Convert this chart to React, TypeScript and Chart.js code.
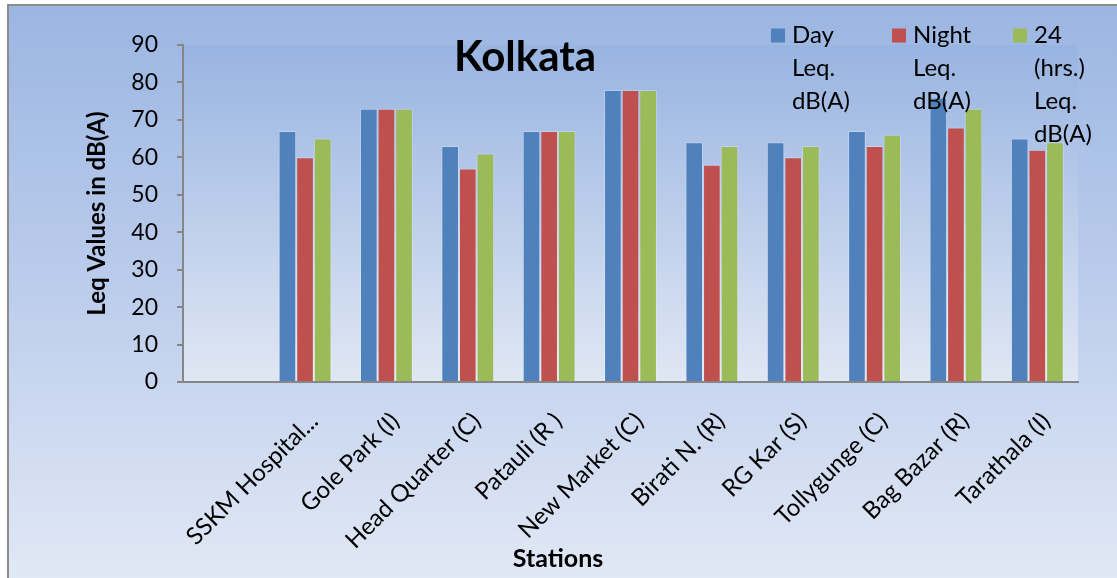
import React, { useEffect, useRef } from 'react';
import { Chart, registerables } from 'chart.js';

Chart.register(...registerables);

const categories = [
  '',
  'SSKM Hospital...',
  'Gole Park (I)',
  'Head Quarter (C)',
  'Patauli (R )',
  'New Market (C)',
  'Birati N. (R)',
  'RG Kar (S)',
  'Tollygunge (C)',
  'Bag Bazar (R)',
  'Tarathala (I)',
];
const dayLeq = [null, 67, 73, 63, 67, 78, 64, 64, 67, 76, 65];
const nightLeq = [null, 60, 73, 57, 67, 78, 58, 60, 63, 68, 62];
const fullDayLeq = [null, 65, 73, 61, 67, 78, 63, 63, 66, 73, 64];
const seriesLabels = ['Day Leq. dB(A)', 'Night Leq. dB(A)', '24 (hrs.) Leq. dB(A)'];
const seriesColors = ['#4f81bd', '#c0504d', '#9bbb59'];
const chartTitle = 'Kolkata';
const yTitle = 'Leq Values in dB(A)';
const xTitle = 'Stations';
const yMin = 0;
const yMax = 90;
const yStep = 10;

const FONT = 'Lato, "Open Sans", sans-serif';

const backgroundPlugin = {
  id: 'bgPlugin',
  beforeDraw(chart: any) {
    const { ctx, width, height, chartArea } = chart;
    ctx.save();
    ctx.fillStyle = '#ffffff';
    ctx.fillRect(0, 0, width, height);
    const g = ctx.createLinearGradient(0, 5, 0, height);
    g.addColorStop(0, '#9bb6e2');
    g.addColorStop(0.5, '#bccdec');
    g.addColorStop(1, '#e1e8f5');
    ctx.fillStyle = g;
    ctx.fillRect(8, 5, width - 8, height - 5);
    ctx.strokeStyle = '#8c8c8c';
    ctx.lineWidth = 2;
    ctx.beginPath();
    ctx.moveTo(8, height);
    ctx.lineTo(8, 5);
    ctx.lineTo(width, 5);
    ctx.stroke();
    const pg = ctx.createLinearGradient(0, chartArea.top, 0, chartArea.bottom);
    pg.addColorStop(0, '#98b4e1');
    pg.addColorStop(1, '#e0e7f4');
    ctx.fillStyle = pg;
    ctx.fillRect(chartArea.left, chartArea.top, chartArea.right - chartArea.left, chartArea.bottom - chartArea.top);
    ctx.restore();
  },
  afterDraw(chart: any) {
    const { ctx } = chart;
    ctx.save();
    ctx.fillStyle = '#000000';
    // Title
    ctx.font = `bold 42px ${FONT}`;
    ctx.textAlign = 'center';
    ctx.textBaseline = 'alphabetic';
    ctx.fillText(chartTitle, 525, 71);
    // X title
    ctx.font = `bold 25px ${FONT}`;
    ctx.fillText(xTitle, 558, 567);
    // Legend
    const legendX = [771, 892, 1013];
    ctx.font = `24px ${FONT}`;
    ctx.textAlign = 'left';
    chart.data.datasets.forEach((ds: any, i: number) => {
      const x = legendX[i];
      ctx.fillStyle = ds.backgroundColor;
      ctx.fillRect(x, 28.5, 14, 14);
      ctx.fillStyle = '#000000';
      const lines = String(ds.label).split(' ');
      lines.forEach((line: string, j: number) => {
        ctx.fillText(line, x + 21, 43 + j * 33);
      });
    });
    ctx.restore();
  },
};

export default function App() {
  const canvasRef = useRef<HTMLCanvasElement | null>(null);

  useEffect(() => {
    if (!canvasRef.current) return;
    const chart = new Chart(canvasRef.current, {
      type: 'bar',
      data: {
        labels: categories,
        datasets: [dayLeq, nightLeq, fullDayLeq].map((d, i) => ({
          label: seriesLabels[i],
          data: d,
          backgroundColor: seriesColors[i],
          borderColor: 'rgba(255,255,255,0.25)',
          borderWidth: 1,
          categoryPercentage: 0.65,
          barPercentage: 1,
        })),
      },
      options: {
        animation: false,
        responsive: true,
        maintainAspectRatio: false,
        layout: { padding: { left: 0, top: 45, right: 39, bottom: 0 } },
        plugins: {
          legend: { display: false },
          title: { display: false },
          tooltip: { enabled: false },
        },
        scales: {
          x: {
            afterFit(scale: any) {
              scale.height = 196;
            },
            grid: { display: true, drawOnChartArea: false, drawTicks: false },
            border: { display: true, color: '#868686', width: 2 },
            ticks: {
              autoSkip: false,
              minRotation: 45,
              maxRotation: 45,
              padding: 25,
              labelOffset: 9,
              color: '#000000',
              font: { family: FONT, size: 24 },
            },
          },
          y: {
            min: yMin,
            max: yMax,
            afterFit(scale: any) {
              scale.width = 183;
            },
            grid: {
              display: true,
              drawOnChartArea: false,
              drawTicks: true,
              tickLength: 6,
              color: '#868686',
              lineWidth: 2,
            },
            border: { display: true, color: '#868686', width: 2 },
            ticks: {
              stepSize: yStep,
              padding: 19,
              color: '#000000',
              font: { family: FONT, size: 23 },
            },
            title: {
              display: true,
              text: yTitle,
              color: '#000000',
              font: { family: FONT, size: 24, weight: 'bold' },
              padding: { top: 83, bottom: 0 },
            },
          },
        },
      },
      plugins: [backgroundPlugin],
    });
    return () => chart.destroy();
  }, []);

  return (
    <div style={{ position: 'fixed', left: 0, top: 0, width: 1117, height: 578 }}>
      <canvas ref={canvasRef} />
    </div>
  );
}
